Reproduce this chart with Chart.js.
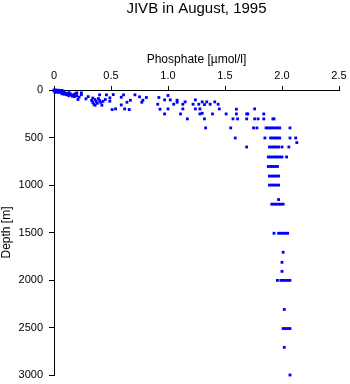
<!DOCTYPE html>
<html>
<head>
<meta charset="utf-8">
<script src="https://cdn.jsdelivr.net/npm/chart.js@4"></script>
<style>
  html, body { margin: 0; padding: 0; background: #fff; }
  #c { display: block; }
</style>
</head>
<body>
<canvas id="c" width="350" height="384"></canvas>
<script>
const chartTitle = 'JIVB in August, 1995';
const xTitle = 'Phosphate [\u00b5mol/l]';
const yTitle = 'Depth [m]';
const xTicks = [0, 0.5, 1, 1.5, 2, 2.5];
const yTicks = [0, 500, 1000, 1500, 2000, 2500, 3000];

// Phosphate [µmol/l] values and matching depths [m]
const phosphate = [
  0.00,0.01,0.02,0.03,0.04,0.05,0.06,0.07,0.02,0.04,0.08,0.03,0.06,0.00,0.01,0.05,0.09,
  0.08,0.10,0.12,0.09,0.13,0.11,0.14,0.07,0.15,0.17,0.18,0.20,0.16,0.19,0.13,0.20,0.24,0.24,0.21,0.28,0.30,0.22,0.18,
  0.33,0.34,0.35,0.36,0.37,0.38,0.39,0.40,0.41,0.42,0.36,0.34,0.40,0.43,0.45,
  0.46,0.49,0.51,0.54,0.52,0.49,0.59,0.61,0.64,0.67,0.59,0.62,0.66,0.71,0.75,0.78,0.77,0.81,
  0.92,0.91,0.93,0.97,0.97,1.00,1.02,1.00,1.05,1.08,1.08,1.11,1.13,1.13,1.15,1.17,
  1.24,1.22,1.27,1.24,1.30,1.28,1.30,1.28,1.32,1.34,1.37,1.39,1.41,1.44,1.45,1.32,1.33,
  1.51,1.55,1.57,1.60,1.60,1.61,1.59,1.69,1.70,1.69,1.69,1.75,1.76,1.76,1.78,1.79,1.84,1.84,1.85,1.92,1.93,
  1.86,1.88,1.90,1.92,1.94,1.96,1.98,2.07,
  1.90,1.92,1.94,1.96,1.98,2.07,2.12,
  2.13,
  1.89,1.91,1.93,1.95,1.97,2.00,2.06,
  1.88,1.90,1.92,1.94,1.96,1.98,2.00,2.04,
  1.88,1.90,1.92,1.94,1.96,
  1.89,1.91,1.93,1.95,1.97,
  1.89,1.91,1.93,1.95,1.97,
  1.97,
  1.91,1.93,1.95,1.97,1.99,2.01,
  1.93,1.97,1.99,2.01,2.03,2.05,
  2.01,2.00,2.00,
  1.96,1.99,2.01,2.03,2.05,2.07,
  2.02,
  2.01,2.03,2.05,2.07,
  2.02,2.07
];
const depth = [
  0,5,0,10,3,8,15,5,20,25,12,15,22,10,25,18,20,
  30,35,40,45,28,50,38,40,50,55,45,60,65,40,60,30,30,50,100,93,70,75,70,
  110,130,150,100,120,140,90,110,130,160,160,85,51,120,100,
  51,118,206,199,48,83,76,51,129,108,157,199,206,51,72,108,129,79,
  79,150,202,252,104,58,104,199,150,108,129,252,199,150,125,304,
  104,150,150,199,125,199,245,252,153,125,150,252,125,150,199,304,399,
  252,399,304,202,252,304,505,252,252,304,600,399,199,304,399,304,252,304,505,304,304,
  399,399,399,399,399,399,399,399,
  505,505,505,505,505,505,505,
  554,
  600,600,600,600,600,600,600,
  705,705,705,705,705,705,705,705,
  805,805,805,805,805,
  906,906,906,906,906,
  1001,1001,1001,1001,1001,
  1153,
  1202,1202,1202,1202,1202,1202,
  1508,1508,1508,1508,1508,1508,
  1708,1814,1909,
  2004,2004,2004,2004,2004,2004,
  2310,
  2511,2511,2511,2511,
  2709,3000
];

const points = phosphate.map((p, i) => ({ x: p, y: depth[i] }));

new Chart(document.getElementById('c'), {
  type: 'scatter',
  data: {
    datasets: [{
      data: points,
      pointStyle: 'rect',
      pointRadius: 2,
      pointHoverRadius: 2,
      borderWidth: 0,
      backgroundColor: '#0000ff',
      borderColor: '#0000ff'
    }]
  },
  options: {
    responsive: false,
    devicePixelRatio: 1,
    animation: false,
    events: [],
    clip: false,
    layout: { padding: { left: 0, right: 11, top: 0, bottom: 9 } },
    plugins: {
      legend: { display: false },
      tooltip: { enabled: false },
      title: {
        display: true,
        text: chartTitle,
        fullSize: false,
        align: 'center',
        color: '#000',
        font: { family: 'Liberation Sans', size: 15, weight: 'normal', lineHeight: 1.2 },
        padding: { top: 0, bottom: 6 }
      }
    },
    scales: {
      x: {
        type: 'linear',
        position: 'top',
        min: 0,
        max: 2.5,
        afterBuildTicks: s => { s.ticks = xTicks.map(v => ({ value: v })); },
        afterFit: s => { s.height = 66; },
        ticks: {
          color: '#000',
          font: { family: 'Liberation Sans', size: 11, lineHeight: 1.2 },
          padding: 3,
          maxRotation: 0,
          autoSkip: false
        },
        grid: { display: true, drawOnChartArea: false, drawTicks: true, tickLength: 4, color: '#000', lineWidth: 1 },
        border: { display: true, color: '#000', width: 1 },
        title: {
          display: true,
          text: xTitle,
          color: '#000',
          font: { family: 'Liberation Sans', size: 12, lineHeight: 1.2 },
          padding: { top: 28.9, bottom: 0 }
        }
      },
      y: {
        type: 'linear',
        position: 'left',
        reverse: true,
        min: 0,
        max: 3000,
        afterBuildTicks: s => { s.ticks = yTicks.map(v => ({ value: v })); },
        afterFit: s => { s.width = 54; s.paddingTop = 0; s.paddingBottom = 0; },
        ticks: {
          color: '#000',
          font: { family: 'Liberation Sans', size: 11, lineHeight: 1.2 },
          padding: 6,
          autoSkip: false,
          callback: v => String(v)
        },
        grid: { display: true, drawOnChartArea: false, drawTicks: true, tickLength: 5, color: '#000', lineWidth: 1 },
        border: { display: true, color: '#000', width: 1 },
        title: {
          display: true,
          text: yTitle,
          color: '#000',
          font: { family: 'Liberation Sans', size: 12, lineHeight: 1 },
          padding: { top: 0.7, bottom: 0 }
        }
      }
    }
  }
});
</script>
</body>
</html>
